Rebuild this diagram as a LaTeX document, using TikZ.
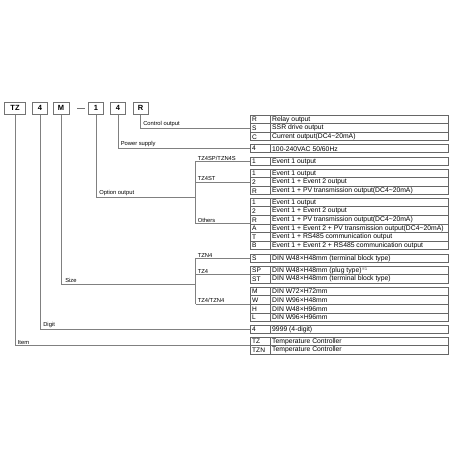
\documentclass[tikz,border=0pt]{standalone}
\usepackage{fontspec}
\setmainfont{Liberation Sans}
\newfontfamily\cjkfont{Noto Sans CJK JP}
\begin{document}
\begin{tikzpicture}[x=1pt,y=-1pt,
  topbox/.style={draw=black!55,line width=1pt,minimum height=12pt,inner sep=0pt,
    font=\bfseries\fontsize{7.5}{8}\selectfont},
  grpbox/.style={draw=black!60,line width=0.7pt,minimum width=198pt,inner sep=0pt,outer sep=0pt},
  tline/.style={draw=black!60,line width=0.6pt},
  conn/.style={draw=black!50,line width=0.8pt},
  codetxt/.style={anchor=west,inner sep=0pt,font=\fontsize{6.6}{7}\selectfont},
  desctxt/.style={anchor=west,inner sep=0pt,font=\fontsize{6.8}{7}\selectfont},
  lbl/.style={anchor=south west,inner sep=0.6pt,font=\fontsize{5.8}{6}\selectfont}]
\def\rh{8.6}
\newcommand\grp[3]{%
  \node[grpbox,minimum height={#3*\rh pt},anchor=north west] (#1) at (250,#2) {};
  \draw[tline] (270,#2) -- (270,#2+#3*\rh);
  \foreach \k in {1,...,#3}{\ifnum\k<#3\relax \draw[tline] (250,#2+\k*\rh) -- (448,#2+\k*\rh);\fi}%
}
\newcommand\trow[5]{% name, group top, index, code, desc
  \node[codetxt] (#1c) at (252,#2+#3*\rh-\rh/2+0.3) {#4};
  \node[desctxt] (#1d) at (272,#2+#3*\rh-\rh/2+0.3) {#5};
}
\useasboundingbox (0,0) rectangle (460,460);
\fill[white] (0,0) rectangle (460,460);

% top code boxes
\node[topbox,minimum width=21pt] (bTZ) at (15,108) {TZ};
\node[topbox,minimum width=15pt] (b4a) at (40,108) {4};
\node[topbox,minimum width=16pt] (bM) at (61,108) {M};
\coordinate (dashL) at (77,108);
\coordinate (dashR) at (85,108);
\draw[black!55,line width=1pt] (dashL) -- (dashR);
\node[topbox,minimum width=15pt] (b1) at (96,108) {1};
\node[topbox,minimum width=15pt] (b4b) at (118,108) {4};
\node[topbox,minimum width=15pt] (bR) at (140.5,108) {R};

% table groups
\grp{g1}{115}{3}
\trow{r11}{115}{1}{R}{Relay output}
\trow{r12}{115}{2}{S}{SSR drive output}
\trow{r13}{115}{3}{C}{Current output(DC4\textasciitilde20mA)}
\grp{g2}{144}{1}
\trow{r21}{144}{1}{4}{100-240VAC 50/60Hz}
\grp{g3}{157}{1}
\trow{r31}{157}{1}{1}{Event 1 output}
\grp{g4}{169}{3}
\trow{r41}{169}{1}{1}{Event 1 output}
\trow{r42}{169}{2}{2}{Event 1 + Event 2 output}
\trow{r43}{169}{3}{R}{Event 1 + PV transmission output(DC4\textasciitilde20mA)}
\grp{g5}{198}{6}
\trow{r51}{198}{1}{1}{Event 1 output}
\trow{r52}{198}{2}{2}{Event 1 + Event 2 output}
\trow{r53}{198}{3}{R}{Event 1 + PV transmission output(DC4\textasciitilde20mA)}
\trow{r54}{198}{4}{A}{Event 1 + Event 2 + PV transmission output(DC4\textasciitilde20mA)}
\trow{r55}{198}{5}{T}{Event 1 + RS485 communication output}
\trow{r56}{198}{6}{B}{Event 1 + Event 2 + RS485 communication output}
\grp{g6}{254}{1}
\trow{r61}{254}{1}{S}{DIN W48×H48mm (terminal block type)}
\grp{g7}{266}{2}
\trow{r71}{266}{1}{SP}{DIN W48×H48mm (plug type)\raisebox{2pt}{\cjkfont\fontsize{3.5}{4}\selectfont ※1}}
\trow{r72}{266}{2}{ST}{DIN W48×H48mm (terminal block type)}
\grp{g8}{287}{4}
\trow{r81}{287}{1}{M}{DIN W72×H72mm}
\trow{r82}{287}{2}{W}{DIN W96×H48mm}
\trow{r83}{287}{3}{H}{DIN W48×H96mm}
\trow{r84}{287}{4}{L}{DIN W96×H96mm}
\grp{g9}{325}{1}
\trow{r91}{325}{1}{4}{9999 (4-digit)}
\grp{g10}{337}{2}
\trow{r101}{337}{1}{TZ}{Temperature Controller}
\trow{r102}{337}{2}{TZN}{Temperature Controller}

% connectors
\draw[conn] (bR.south) |- (g1.west);
\draw[conn] (b4b.south) |- (g2.west);
\coordinate (optj) at (195.5,197);
\draw[conn] (b1.south) |- (optj);
\draw[conn] (g3.west -| optj) -- (g5.west -| optj);
\draw[conn] (g3.west -| optj) -- (g3.west);
\draw[conn] (g4.west -| optj) -- (g4.west);
\draw[conn] (g5.west -| optj) -- (g5.west);
\coordinate (sizej) at (195.5,284);
\draw[conn] (bM.south) |- (sizej);
\draw[conn] (g6.west -| sizej) -- (g8.west -| sizej);
\draw[conn] (g6.west -| sizej) -- (g6.west);
\draw[conn] (g7.west -| sizej) -- (g7.west);
\draw[conn] (g8.west -| sizej) -- (g8.west);
\draw[conn] (b4a.south) |- (g9.west);
\draw[conn] (bTZ.south) |- (g10.west);

% labels
\node[lbl] (lctrl) at (142.5,127.6) {Control output};
\node[lbl] (lpow) at (120,147.8) {Power supply};
\node[lbl] (lopt) at (98.5,196.6) {Option output};
\node[lbl] (l3) at (197,161) {TZ4SP/TZN4S};
\node[lbl] (l4) at (197,181.5) {TZ4ST};
\node[lbl] (l5) at (197,223.3) {Others};
\node[lbl] (lsize) at (64.5,283.6) {Size};
\node[lbl] (l6) at (197,257.8) {TZN4};
\node[lbl] (l7) at (197,274.1) {TZ4};
\node[lbl] (l8) at (197,303.7) {TZ4/TZN4};
\node[lbl] (ldig) at (42.5,328.8) {Digit};
\node[lbl] (litem) at (17,345.1) {Item};
\end{tikzpicture}
\end{document}
